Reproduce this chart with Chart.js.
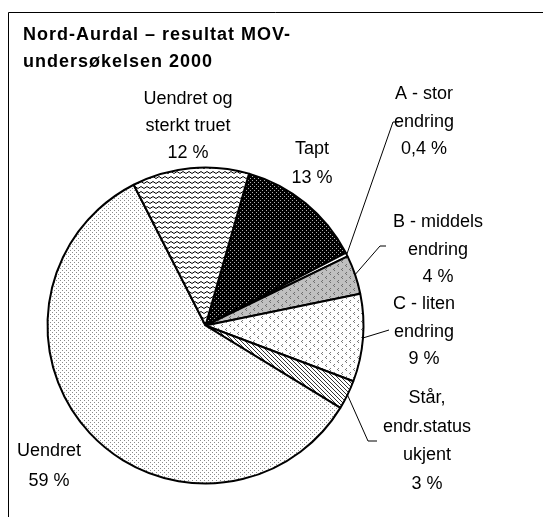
<!DOCTYPE html>
<html>
<head>
<meta charset="utf-8">
<script src="https://cdn.jsdelivr.net/npm/chart.js@4"></script>
<style>
  body { margin: 0; background: #fff; }
</style>
</head>
<body>
<canvas id="myChart" width="543" height="517"></canvas>
<script>
// data
const titleLines = ["Nord-Aurdal \u2013 resultat MOV-", "undersøkelsen 2000"];
const categories = [
  ["Tapt"],
  ["A - stor", "endring"],
  ["B - middels", "endring"],
  ["C - liten", "endring"],
  ["Står,", "endr.status", "ukjent"],
  ["Uendret"],
  ["Uendret og", "sterkt truet"]
];
const shares = [13, 0.4, 4, 9, 3, 59, 12];

// where each label sits: centre x, first baseline, line height, leader bend points
const labelPos = [
  {x: 312, y: 154, lh: 29},
  {x: 424, y: 99, lh: 27.5, leader: [[393, 122], [399, 122]]},
  {x: 438, y: 227, lh: 27.5, leader: [[380, 246], [386, 246]]},
  {x: 424, y: 309, lh: 27.5, leader: [[389, 330]]},
  {x: 427, y: 403, lh: 28.7, leader: [[368, 441], [377, 441]]},
  {x: 49, y: 456, lh: 30},
  {x: 188, y: 104, lh: 27}
];

function pct(v) {
  return v.toString().replace(".", ",") + " %";
}

function makePattern(w, h, bg, draw) {
  let c = document.createElement("canvas");
  c.width = w; c.height = h;
  let g = c.getContext("2d");
  g.fillStyle = bg;
  g.fillRect(0, 0, w, h);
  draw(g);
  return g.createPattern(c, "repeat");
}
function px(g, col, pts) {
  g.fillStyle = col;
  pts.forEach(p => g.fillRect(p[0], p[1], 1, 1));
}

let dotsDark = makePattern(4, 4, "#000", g => px(g, "#b0b0b0", [[0, 0], [2, 2]]));
let dotsLight = makePattern(4, 4, "#fff", g => px(g, "#8a8a8a", [[0, 0], [2, 2]]));
let chevGray = makePattern(8, 8, "#c0c0c0", g => px(g, "#6e6e6e", [[2, 0], [1, 1], [2, 2], [6, 4], [5, 5], [6, 6]]));
let chevWhite = makePattern(8, 8, "#fff", g => px(g, "#7a7a7a", [[2, 0], [1, 1], [2, 2], [6, 4], [5, 5], [6, 6]]));
let hatch = makePattern(4, 4, "#fff", g => px(g, "#333", [[0, 0], [1, 1], [2, 2], [3, 3]]));
let zigzag = makePattern(6, 5, "#fff", g => {
  g.strokeStyle = "#000";
  g.lineWidth = 1;
  g.beginPath();
  g.moveTo(0, 3.5); g.lineTo(3, 1.5); g.lineTo(6, 3.5);
  g.stroke();
});

const fills = [dotsDark, "#fff", chevGray, chevWhite, hatch, dotsLight, zigzag];

const decor = {
  id: "decor",
  beforeDraw(chart) {
    let c = chart.ctx;
    c.save();
    c.fillStyle = "#fff";
    c.fillRect(0, 0, chart.width, chart.height);
    c.strokeStyle = "#000";
    c.lineWidth = 1;
    c.beginPath();
    c.moveTo(8.5, chart.height);
    c.lineTo(8.5, 12.5);
    c.lineTo(chart.width, 12.5);
    c.stroke();
    c.restore();
  },
  afterDraw(chart) {
    let c = chart.ctx;
    c.save();
    c.fillStyle = "#000";
    c.font = "bold 18px 'Liberation Sans', Arial, sans-serif";
    c.letterSpacing = "1px";
    c.textAlign = "left";
    c.textBaseline = "alphabetic";
    titleLines.forEach((t, i) => c.fillText(t, 23, 40 + i * 27));

    let arcs = chart.getDatasetMeta(0).data;
    c.letterSpacing = "0px";
    c.font = "18px 'Liberation Sans', Arial, sans-serif";
    c.textAlign = "center";
    categories.forEach((lines, i) => {
      let p = labelPos[i];
      let all = lines.concat([pct(shares[i])]);
      all.forEach((t, j) => c.fillText(t, p.x, p.y + j * p.lh));
      if (p.leader) {
        let a = arcs[i];
        let mid = (a.startAngle + a.endAngle) / 2;
        c.strokeStyle = "#000";
        c.lineWidth = 1;
        c.beginPath();
        c.moveTo(a.x + Math.cos(mid) * a.outerRadius, a.y + Math.sin(mid) * a.outerRadius);
        p.leader.forEach(q => c.lineTo(q[0], q[1]));
        c.stroke();
      }
    });
    c.restore();
  }
};

let ctx = document.getElementById("myChart");
new Chart(ctx, {
  type: "pie",
  data: {
    labels: categories.map(l => l.join(" ")),
    datasets: [{
      data: shares,
      backgroundColor: fills,
      borderColor: "#000",
      borderWidth: 2
    }]
  },
  options: {
    responsive: false,
    animation: false,
    devicePixelRatio: 1,
    events: [],
    rotation: 16,
    radius: 158,
    layout: { padding: { left: 0, right: 132, top: 134, bottom: 0 } },
    plugins: {
      legend: { display: false },
      tooltip: { enabled: false }
    }
  },
  plugins: [decor]
});
</script>
</body>
</html>
